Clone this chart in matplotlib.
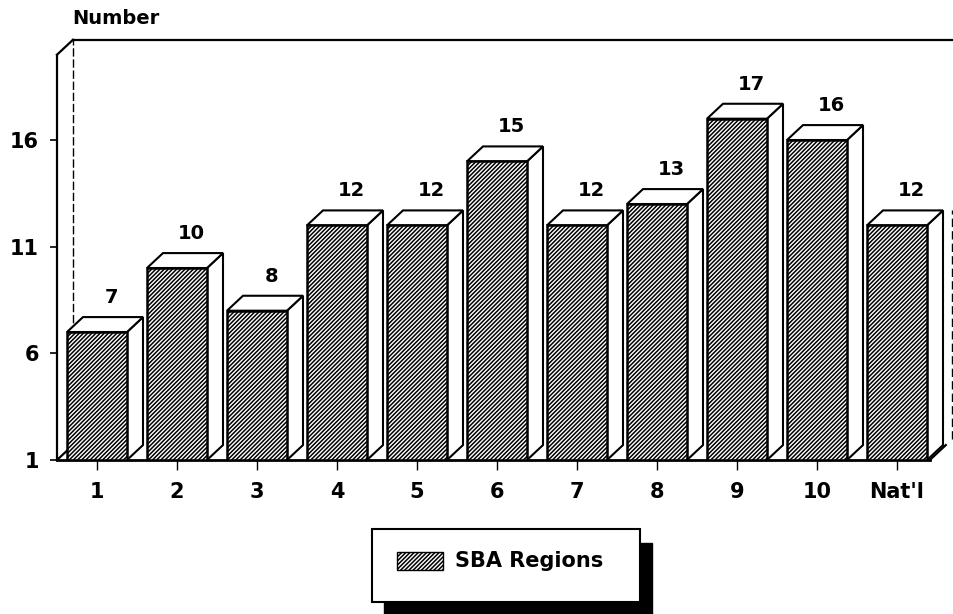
import matplotlib.pyplot as plt
from matplotlib.patches import Rectangle, Polygon

plt.rcParams['font.family'] = ['DejaVu Sans']
plt.rcParams['font.weight'] = 'bold'
plt.rcParams['hatch.linewidth'] = 1.1

# data
regions = ['1', '2', '3', '4', '5', '6', '7', '8', '9', '10', "Nat'l"]
counts = [7, 10, 8, 12, 12, 15, 12, 13, 17, 16, 12]
yticks = [1, 6, 11, 16]

# 3d look
bw = 0.75      # bar width
dx = 0.2       # depth in x
dy = 0.7       # depth in y
base = 1
wall_top = 20
hatch = '////////'

W, H = 954, 614
fig = plt.figure(figsize=(W / 100, H / 100), dpi=100)
ax = fig.add_axes([57 / W, (H - 460) / H, 896 / W, 430.9 / H])
ax.set_xlim(-0.5, 10.7)
ax.set_ylim(1, 21.2)
for s in ax.spines.values():
    s.set_visible(False)

# back frame / walls
x_left = -0.5
x_right = 10.41
k = dict(color='black', lw=1.6, clip_on=False)
ax.plot([x_left, x_left], [base, wall_top], **k)
ax.plot([x_left, x_left + dx], [wall_top, wall_top + dy], **k)
ax.plot([x_left + dx, x_right + dx + 0.08], [wall_top + dy, wall_top + dy], **k)
ax.plot([x_left + dx, x_left + dx], [base + dy, wall_top + dy], color='black', lw=1.0, ls=(0, (6, 2)))
ax.plot([x_right + dx + 0.08, x_right + dx + 0.08], [base + dy + 0.3, 12.7], color='black',
        lw=1.0, ls=(0, (6, 3)), clip_on=False)
ax.plot([x_left, x_left + dx], [base, base + dy], **k)
ax.plot([x_left, x_right], [base, base], color='black', lw=2, clip_on=False)
ax.plot([x_right, x_right + dx], [base, base + dy], **k)

# bars
for i, v in enumerate(counts):
    x0 = i - bw / 2
    x1 = i + bw / 2
    side = Polygon([(x1, base), (x1 + dx, base + dy), (x1 + dx, v + dy), (x1, v)],
                   closed=True, facecolor='white', edgecolor='black', lw=1.5, zorder=3)
    top = Polygon([(x0, v), (x0 + dx, v + dy), (x1 + dx, v + dy), (x1, v)],
                  closed=True, facecolor='white', edgecolor='black', lw=1.5, zorder=3)
    front = Rectangle((x0, base), bw, v - base, facecolor='white', edgecolor='black',
                      hatch=hatch, lw=1.8, zorder=4)
    ax.add_patch(side)
    ax.add_patch(top)
    ax.add_patch(front)
    ax.annotate(str(v), (i + dx * 0.9, v + dy), xytext=(0, 14), textcoords='offset points',
                ha='center', va='center', fontsize=14, fontweight='bold', zorder=5)

ax.set_yticks(yticks)
ax.set_yticklabels([str(t) for t in yticks], fontsize=15, fontweight='bold')
ax.set_xticks(range(len(regions)))
ax.set_xticklabels(regions, fontsize=15, fontweight='bold')
ax.tick_params(axis='y', direction='out', length=5, width=1.2, pad=8)
ax.tick_params(axis='x', direction='out', length=7, width=1.0, pad=9)

fig.text(72 / W, 1 - 18 / H, 'Number', ha='left', va='center', fontsize=14, fontweight='bold')

# legend with drop shadow
tf = fig.transFigure
bx0, by0, bx1, by1 = 372, 529, 640, 602
fig.add_artist(Rectangle(((bx0 + 12) / W, (H - by1 - 14) / H), (bx1 - bx0) / W, (by1 - by0) / H,
                         transform=tf, facecolor='black', edgecolor='black'))
fig.add_artist(Rectangle((bx0 / W, (H - by1) / H), (bx1 - bx0) / W, (by1 - by0) / H,
                         transform=tf, facecolor='white', edgecolor='black', lw=1.5))
fig.add_artist(Rectangle((397 / W, (H - 570) / H), 46 / W, 18 / H, transform=tf,
                         facecolor='white', edgecolor='black', hatch=hatch, lw=1.0))
fig.text(455 / W, 1 - 561 / H, 'SBA Regions', ha='left', va='center', fontsize=15, fontweight='bold')

fig.savefig('out.png', dpi=100)
